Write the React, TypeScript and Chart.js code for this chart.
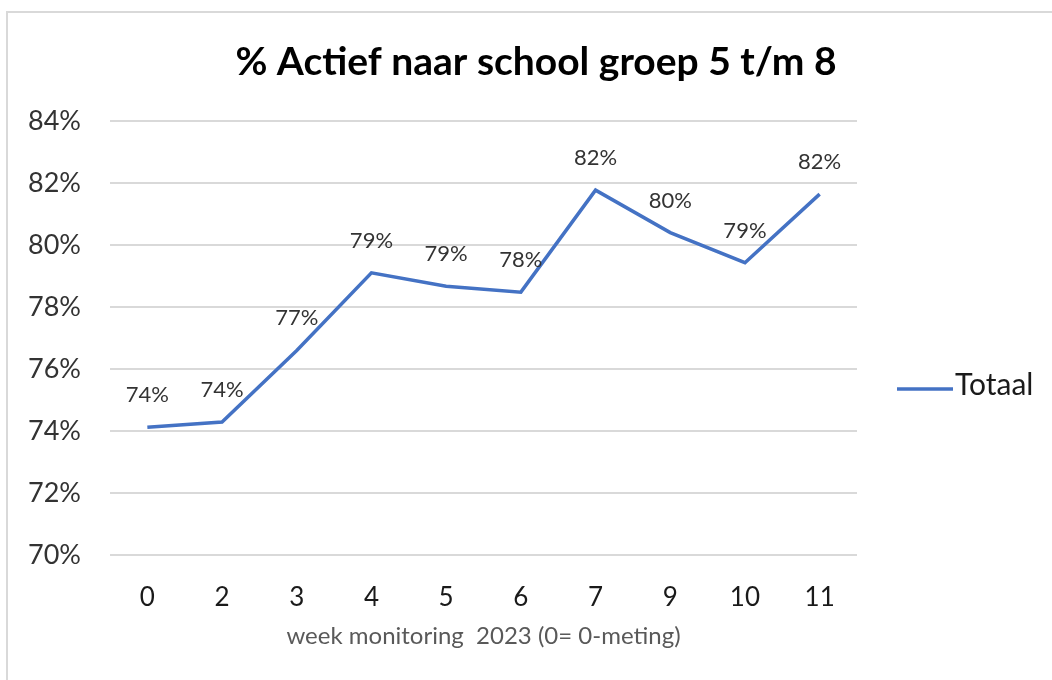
import React, { useEffect, useRef } from "react";
import { Chart, registerables } from "chart.js";

Chart.register(...registerables);

const weeks: string[] = ["0", "2", "3", "4", "5", "6", "7", "9", "10", "11"];
const totaal: number[] = [74.12, 74.29, 76.6, 79.1, 78.67, 78.48, 81.77, 80.4, 79.43, 81.64];
const seriesLabel = "Totaal";
const chartTitle = "% Actief naar school groep 5 t/m 8";
const xAxisTitle = "week monitoring  2023 (0= 0-meting)";
const yMin = 70;
const yMax = 84;
const yStep = 2;

const FONT = "Lato";
const LINE_COLOR = "#4472C4";

const overlayPlugin = {
  id: "overlay",
  afterDatasetsDraw(chart: any) {
    const ctx = chart.ctx as CanvasRenderingContext2D;
    const meta = chart.getDatasetMeta(0);
    const values = chart.data.datasets[0].data as number[];
    ctx.save();
    // data labels
    ctx.font = `22px ${FONT}`;
    ctx.fillStyle = "#333333";
    ctx.textAlign = "center";
    ctx.textBaseline = "middle";
    meta.data.forEach((pt: any, i: number) => {
      ctx.fillText(Math.round(values[i]) + "%", pt.x, pt.y - 32);
    });
    // title
    ctx.font = `bold 39px ${FONT}`;
    ctx.fillStyle = "#000000";
    ctx.textAlign = "center";
    ctx.textBaseline = "middle";
    ctx.fillText(chartTitle, 536, 62);
    // legend
    ctx.strokeStyle = LINE_COLOR;
    ctx.lineWidth = 3.5;
    ctx.beginPath();
    ctx.moveTo(897, 389);
    ctx.lineTo(953, 389);
    ctx.stroke();
    ctx.font = `30px ${FONT}`;
    ctx.fillStyle = "#1a1a1a";
    ctx.textAlign = "left";
    ctx.fillText(chart.data.datasets[0].label, 955, 385);
    ctx.restore();
  },
};

export default function App() {
  const ref = useRef<HTMLCanvasElement | null>(null);

  useEffect(() => {
    if (!ref.current) return;
    const chart = new Chart(ref.current, {
      type: "line",
      data: {
        labels: weeks,
        datasets: [
          {
            label: seriesLabel,
            data: totaal,
            borderColor: LINE_COLOR,
            backgroundColor: LINE_COLOR,
            borderWidth: 3.5,
            pointRadius: 0,
            tension: 0,
          },
        ],
      },
      options: {
        responsive: false,
        animation: false,
        layout: { padding: { top: 121, right: 195, bottom: 0, left: 0 } },
        plugins: {
          legend: { display: false },
          title: { display: false },
          tooltip: { enabled: false },
        },
        scales: {
          x: {
            offset: true,
            grid: { display: false, drawTicks: false },
            border: { display: false },
            ticks: {
              padding: 27,
              color: "#1a1a1a",
              font: { family: FONT, size: 26 },
            },
            title: {
              display: true,
              text: xAxisTitle,
              color: "#595959",
              font: { family: FONT, size: 24 },
              padding: { top: 0, bottom: 29 },
            },
            afterFit(scale: any) {
              scale.height = 125;
            },
          },
          y: {
            min: yMin,
            max: yMax,
            grid: { color: "#d9d9d9", lineWidth: 2, drawTicks: false },
            border: { display: false },
            ticks: {
              stepSize: yStep,
              padding: 29,
              color: "#333333",
              font: { family: FONT, size: 27 },
              callback: (v: any) => v + "%",
            },
            afterFit(scale: any) {
              scale.width = 110;
            },
          },
        },
      },
      plugins: [overlayPlugin],
    });
    return () => chart.destroy();
  }, []);

  return (
    <div style={{ position: "fixed", left: 0, top: 0, width: 1052, height: 680, background: "#fff", overflow: "hidden" }}>
      <div
        style={{
          position: "absolute",
          left: 6,
          top: 11,
          width: 1100,
          height: 720,
          border: "2px solid #d9d9d9",
          boxSizing: "border-box",
        }}
      />
      <canvas ref={ref} width={1052} height={680} style={{ position: "absolute", left: 0, top: 0 }} />
    </div>
  );
}
